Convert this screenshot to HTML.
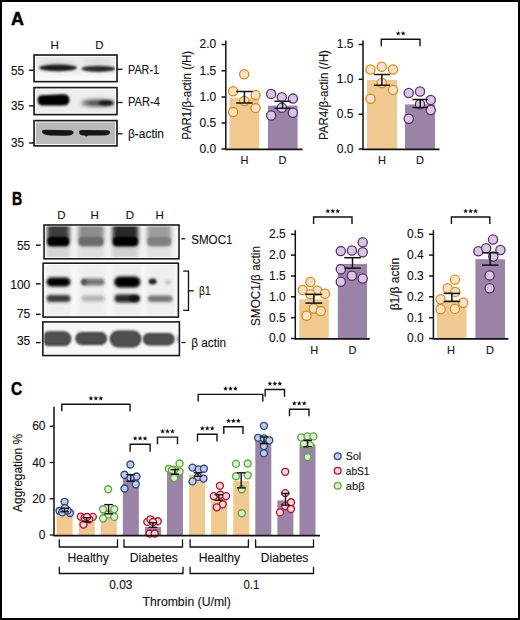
<!DOCTYPE html><html><head><meta charset="utf-8"><style>html,body{margin:0;padding:0;background:#fff;overflow:hidden;width:520px;height:620px;}svg{display:block;}</style></head><body>
<svg width="520" height="620" viewBox="0 0 520 620" font-family='"Liberation Sans", sans-serif'>
<defs>
<filter id="b1" x="-30%" y="-80%" width="160%" height="260%"><feGaussianBlur stdDeviation="1.2"/></filter>
<filter id="b2" x="-30%" y="-80%" width="160%" height="260%"><feGaussianBlur stdDeviation="2"/></filter>
<filter id="b3" x="-30%" y="-80%" width="160%" height="260%"><feGaussianBlur stdDeviation="3"/></filter>
<clipPath id="cA1"><rect x="34.8" y="55.8" width="81.4" height="25.1"/></clipPath>
<clipPath id="cA2"><rect x="34.8" y="88.4" width="81.4" height="25.4"/></clipPath>
<clipPath id="cA3"><rect x="34.8" y="121.4" width="81.4" height="23.7"/></clipPath>
<clipPath id="cB1"><rect x="44.8" y="225.8" width="133.4" height="32.2"/></clipPath>
<clipPath id="cB2"><rect x="43.9" y="264" width="133.7" height="52.3"/></clipPath>
<clipPath id="cB3"><rect x="43.6" y="322.7" width="135" height="32.1"/></clipPath>
</defs>
<rect x="0" y="0" width="520" height="620" fill="#fff" />
<rect x="1" y="1" width="518" height="618" fill="none" stroke="#000" stroke-width="2"/>
<text x="10.9" y="25.2" font-size="18" text-anchor="start" fill="#000" stroke="#000" stroke-width="0.5" font-weight="bold" textLength="12.9" lengthAdjust="spacingAndGlyphs">A</text>
<text x="54.6" y="49.2" font-size="11.5" text-anchor="middle" fill="#111" stroke="#111" stroke-width="0.12">H</text>
<text x="99.3" y="49.2" font-size="11.5" text-anchor="middle" fill="#111" stroke="#111" stroke-width="0.12">D</text>
<g clip-path="url(#cA1)">
<rect x="34" y="55" width="83" height="27" fill="#efefef" />
<ellipse cx="98" cy="62" rx="16" ry="4" fill="#d8d8d8" filter="url(#b3)"/>
<ellipse cx="58" cy="64" rx="20" ry="4" fill="#d6d6d6" filter="url(#b3)"/>
<ellipse cx="58" cy="67.8" rx="19" ry="3.4" fill="#1e1e1e" filter="url(#b1)"/>
<ellipse cx="98.5" cy="68.8" rx="17" ry="3.1" fill="#2a2a2a" filter="url(#b1)"/>
<rect x="34" y="75.5" width="83" height="7" fill="#fbfbfb" filter="url(#b2)"/>
</g>
<g clip-path="url(#cA2)">
<rect x="34" y="88" width="83" height="27" fill="#ededed" />
<path d="M37.8 99 Q37.8 95.5 42 95.2 L63 94.2 Q69.5 94.2 69.5 100 Q69.5 105.6 63 105.6 L42 105.4 Q37.8 105 37.8 101 Z" fill="#060606" filter="url(#b1)"/>
<ellipse cx="98.5" cy="103" rx="17" ry="3.3" fill="#404040" filter="url(#b2)"/>
<ellipse cx="106" cy="103" rx="7" ry="2.6" fill="#151515" filter="url(#b1)"/>
</g>
<g clip-path="url(#cA3)">
<rect x="34" y="121" width="83" height="25" fill="#b9b9b9" />
<filter id="b08" x="-20%" y="-80%" width="140%" height="260%"><feGaussianBlur stdDeviation="0.7"/></filter>
<path d="M42 131.5 Q42 129.8 45 129.8 L70 130.2 Q73.5 130.5 73.5 132.5 Q73.5 135.5 66 135.8 L50 135.6 Q42 135 42 131.5 Z" fill="#151515" filter="url(#b08)"/>
<path d="M79 132 Q79 130 82 130 L107 130.3 Q110 130.6 110 132.5 Q110 135.3 103 135.6 L88 135.6 Q86 137.5 85 135.6 L83 135.5 Q79 135 79 132 Z" fill="#151515" filter="url(#b08)"/>
</g>
<rect x="35.3" y="56.3" width="80.4" height="24.050000000000004" fill="none" stroke="#fff" stroke-width="1"/>
<rect x="34.05" y="55" width="82.95" height="26.650000000000006" fill="none" stroke="#1a1a1a" stroke-width="1.65"/>
<rect x="35.3" y="88.89999999999999" width="80.4" height="24.4" fill="none" stroke="#fff" stroke-width="1"/>
<rect x="34.05" y="87.6" width="82.95" height="27.0" fill="none" stroke="#1a1a1a" stroke-width="1.65"/>
<rect x="35.3" y="121.89999999999999" width="80.4" height="22.70000000000001" fill="none" stroke="#fff" stroke-width="1"/>
<rect x="34.05" y="120.6" width="82.95" height="25.30000000000001" fill="none" stroke="#1a1a1a" stroke-width="1.65"/>
<line x1="29.1" y1="70.3" x2="34" y2="70.3" stroke="#111" stroke-width="1.4"/>
<text x="24.1" y="74.5" font-size="12.5" text-anchor="end" fill="#111" stroke="#111" stroke-width="0.12" textLength="13.1" lengthAdjust="spacingAndGlyphs">55</text>
<line x1="29.1" y1="105.9" x2="34" y2="105.9" stroke="#111" stroke-width="1.4"/>
<text x="24.1" y="110.1" font-size="12.5" text-anchor="end" fill="#111" stroke="#111" stroke-width="0.12" textLength="13.1" lengthAdjust="spacingAndGlyphs">35</text>
<line x1="29.1" y1="143" x2="34" y2="143" stroke="#111" stroke-width="1.4"/>
<text x="24.1" y="147.1" font-size="12.5" text-anchor="end" fill="#111" stroke="#111" stroke-width="0.12" textLength="13.1" lengthAdjust="spacingAndGlyphs">35</text>
<line x1="117.2" y1="69.3" x2="122.5" y2="69.3" stroke="#111" stroke-width="1.3"/>
<text x="128" y="74.4" font-size="12" text-anchor="start" fill="#111" stroke="#111" stroke-width="0.12" textLength="31" lengthAdjust="spacingAndGlyphs">PAR-1</text>
<line x1="117.2" y1="102.5" x2="122.5" y2="102.5" stroke="#111" stroke-width="1.3"/>
<text x="128" y="106.2" font-size="12" text-anchor="start" fill="#111" stroke="#111" stroke-width="0.12" textLength="32" lengthAdjust="spacingAndGlyphs">PAR-4</text>
<line x1="117.2" y1="133.8" x2="122.5" y2="133.8" stroke="#111" stroke-width="1.3"/>
<text x="128" y="138.1" font-size="12" text-anchor="start" fill="#111" stroke="#111" stroke-width="0.12" textLength="36" lengthAdjust="spacingAndGlyphs">β-actin</text>
<g id="A1">
<rect x="229.6" y="97.795" width="29.6" height="51.205" fill="#efc98f" />
<rect x="268" y="105.6325" width="29.6" height="43.3675" fill="#9b83a8" />
<circle cx="244.20" cy="74.20" r="4.6" fill="#f7e2c9" stroke="#dc8a16" stroke-width="1.3"/>
<circle cx="233.10" cy="91.20" r="4.6" fill="#f7e2c9" stroke="#dc8a16" stroke-width="1.3"/>
<circle cx="255.60" cy="94.90" r="4.6" fill="#f7e2c9" stroke="#dc8a16" stroke-width="1.3"/>
<circle cx="244.20" cy="101.10" r="4.6" fill="#f7e2c9" stroke="#dc8a16" stroke-width="1.3"/>
<circle cx="255.60" cy="108.10" r="4.6" fill="#f7e2c9" stroke="#dc8a16" stroke-width="1.3"/>
<circle cx="233.10" cy="112.10" r="4.6" fill="#f7e2c9" stroke="#dc8a16" stroke-width="1.3"/>
<circle cx="271.10" cy="93.90" r="4.6" fill="#d6c9de" stroke="#5b2b74" stroke-width="1.3"/>
<circle cx="281.80" cy="97.30" r="4.6" fill="#d6c9de" stroke="#5b2b74" stroke-width="1.3"/>
<circle cx="292.90" cy="98.60" r="4.6" fill="#d6c9de" stroke="#5b2b74" stroke-width="1.3"/>
<circle cx="281.80" cy="107.80" r="4.6" fill="#d6c9de" stroke="#5b2b74" stroke-width="1.3"/>
<circle cx="292.90" cy="112.80" r="4.6" fill="#d6c9de" stroke="#5b2b74" stroke-width="1.3"/>
<circle cx="271.10" cy="115.50" r="4.6" fill="#d6c9de" stroke="#5b2b74" stroke-width="1.3"/>
<line x1="244.4" y1="91.5" x2="244.4" y2="103" stroke="#111" stroke-width="1.5"/>
<line x1="236.20000000000002" y1="91.5" x2="252.6" y2="91.5" stroke="#111" stroke-width="1.5"/>
<line x1="236.20000000000002" y1="103" x2="252.6" y2="103" stroke="#111" stroke-width="1.5"/>
<line x1="282.5" y1="101.3" x2="282.5" y2="108.3" stroke="#111" stroke-width="1.5"/>
<line x1="274.4" y1="101.3" x2="290.6" y2="101.3" stroke="#111" stroke-width="1.5"/>
<line x1="274.4" y1="108.3" x2="290.6" y2="108.3" stroke="#111" stroke-width="1.5"/>
<line x1="225.8" y1="40.5" x2="225.8" y2="149.7" stroke="#111" stroke-width="1.5"/>
<line x1="225.10000000000002" y1="149.4" x2="302.5" y2="149.4" stroke="#111" stroke-width="1.7"/>
<line x1="221.5" y1="149" x2="225.8" y2="149" stroke="#111" stroke-width="1.5"/>
<text x="216.20000000000002" y="152.9" font-size="12" text-anchor="end" fill="#111" stroke="#111" stroke-width="0.12">0.0</text>
<line x1="221.5" y1="123" x2="225.8" y2="123" stroke="#111" stroke-width="1.5"/>
<text x="216.20000000000002" y="126.9" font-size="12" text-anchor="end" fill="#111" stroke="#111" stroke-width="0.12">0.5</text>
<line x1="221.5" y1="97" x2="225.8" y2="97" stroke="#111" stroke-width="1.5"/>
<text x="216.20000000000002" y="100.9" font-size="12" text-anchor="end" fill="#111" stroke="#111" stroke-width="0.12">1.0</text>
<line x1="221.5" y1="70.8" x2="225.8" y2="70.8" stroke="#111" stroke-width="1.5"/>
<text x="216.20000000000002" y="74.7" font-size="12" text-anchor="end" fill="#111" stroke="#111" stroke-width="0.12">1.5</text>
<line x1="221.5" y1="44.5" x2="225.8" y2="44.5" stroke="#111" stroke-width="1.5"/>
<text x="216.20000000000002" y="48.4" font-size="12" text-anchor="end" fill="#111" stroke="#111" stroke-width="0.12">2.0</text>
<text x="190.6" y="95.3" font-size="12.5" text-anchor="middle" fill="#111" stroke="#111" stroke-width="0.12" textLength="89" lengthAdjust="spacingAndGlyphs" transform="rotate(-90 190.6 95.3)">PAR1/β-actin (/H)</text>
<text x="244.6" y="163.8" font-size="11" text-anchor="middle" fill="#111" stroke="#111" stroke-width="0.12">H</text>
<text x="282.5" y="163.8" font-size="11" text-anchor="middle" fill="#111" stroke="#111" stroke-width="0.12">D</text>
</g>
<g id="A2">
<rect x="367" y="80.03" width="30" height="68.97" fill="#efc98f" />
<rect x="405" y="104.41333333333333" width="30" height="44.58666666666667" fill="#9b83a8" />
<circle cx="370.50" cy="69.50" r="4.6" fill="#f7e2c9" stroke="#dc8a16" stroke-width="1.3"/>
<circle cx="381.75" cy="66.75" r="4.6" fill="#f7e2c9" stroke="#dc8a16" stroke-width="1.3"/>
<circle cx="393.00" cy="69.50" r="4.6" fill="#f7e2c9" stroke="#dc8a16" stroke-width="1.3"/>
<circle cx="381.75" cy="83.00" r="4.6" fill="#f7e2c9" stroke="#dc8a16" stroke-width="1.3"/>
<circle cx="393.00" cy="90.00" r="4.6" fill="#f7e2c9" stroke="#dc8a16" stroke-width="1.3"/>
<circle cx="370.50" cy="98.75" r="4.6" fill="#f7e2c9" stroke="#dc8a16" stroke-width="1.3"/>
<circle cx="408.75" cy="93.00" r="4.6" fill="#d6c9de" stroke="#5b2b74" stroke-width="1.3"/>
<circle cx="420.00" cy="91.50" r="4.6" fill="#d6c9de" stroke="#5b2b74" stroke-width="1.3"/>
<circle cx="430.75" cy="100.00" r="4.6" fill="#d6c9de" stroke="#5b2b74" stroke-width="1.3"/>
<circle cx="420.00" cy="104.25" r="4.6" fill="#d6c9de" stroke="#5b2b74" stroke-width="1.3"/>
<circle cx="430.75" cy="110.00" r="4.6" fill="#d6c9de" stroke="#5b2b74" stroke-width="1.3"/>
<circle cx="408.75" cy="118.75" r="4.6" fill="#d6c9de" stroke="#5b2b74" stroke-width="1.3"/>
<line x1="381.9" y1="74.5" x2="381.9" y2="85.25" stroke="#111" stroke-width="1.5"/>
<line x1="373.79999999999995" y1="74.5" x2="390.0" y2="74.5" stroke="#111" stroke-width="1.5"/>
<line x1="373.79999999999995" y1="85.25" x2="390.0" y2="85.25" stroke="#111" stroke-width="1.5"/>
<line x1="420.2" y1="99.5" x2="420.2" y2="107.5" stroke="#111" stroke-width="1.5"/>
<line x1="412.4" y1="99.5" x2="428.0" y2="99.5" stroke="#111" stroke-width="1.5"/>
<line x1="412.4" y1="107.5" x2="428.0" y2="107.5" stroke="#111" stroke-width="1.5"/>
<line x1="363" y1="40.5" x2="363" y2="149.7" stroke="#111" stroke-width="1.5"/>
<line x1="362.3" y1="149.4" x2="439.5" y2="149.4" stroke="#111" stroke-width="1.7"/>
<line x1="358.7" y1="149" x2="363" y2="149" stroke="#111" stroke-width="1.5"/>
<text x="353.4" y="152.9" font-size="12" text-anchor="end" fill="#111" stroke="#111" stroke-width="0.12">0.0</text>
<line x1="358.7" y1="114.2" x2="363" y2="114.2" stroke="#111" stroke-width="1.5"/>
<text x="353.4" y="118.10000000000001" font-size="12" text-anchor="end" fill="#111" stroke="#111" stroke-width="0.12">0.5</text>
<line x1="358.7" y1="79.3" x2="363" y2="79.3" stroke="#111" stroke-width="1.5"/>
<text x="353.4" y="83.2" font-size="12" text-anchor="end" fill="#111" stroke="#111" stroke-width="0.12">1.0</text>
<line x1="358.7" y1="44.5" x2="363" y2="44.5" stroke="#111" stroke-width="1.5"/>
<text x="353.4" y="48.4" font-size="12" text-anchor="end" fill="#111" stroke="#111" stroke-width="0.12">1.5</text>
<path d="M381.3 46.3 L381.3 39.3 L420 39.3 L420 46.3" stroke="#111" stroke-width="1.4" fill="none"/>
<polygon points="398.17,30.90 398.82,32.61 400.65,32.70 399.22,33.84 399.70,35.60 398.17,34.60 396.65,35.60 397.13,33.84 395.70,32.70 397.53,32.61" fill="#111"/>
<polygon points="403.12,30.90 403.77,32.61 405.60,32.70 404.17,33.84 404.65,35.60 403.12,34.60 401.60,35.60 402.08,33.84 400.65,32.70 402.48,32.61" fill="#111"/>
<text x="328.4" y="95.1" font-size="12.5" text-anchor="middle" fill="#111" stroke="#111" stroke-width="0.12" textLength="90" lengthAdjust="spacingAndGlyphs" transform="rotate(-90 328.4 95.1)">PAR4/β-actin (/H)</text>
<text x="382" y="163.8" font-size="11" text-anchor="middle" fill="#111" stroke="#111" stroke-width="0.12">H</text>
<text x="420" y="163.8" font-size="11" text-anchor="middle" fill="#111" stroke="#111" stroke-width="0.12">D</text>
</g>
<text x="12" y="204.9" font-size="18" text-anchor="start" fill="#000" stroke="#000" stroke-width="0.5" font-weight="bold" textLength="10.2" lengthAdjust="spacingAndGlyphs">B</text>
<text x="61.3" y="219.3" font-size="11.5" text-anchor="middle" fill="#111" stroke="#111" stroke-width="0.12">D</text>
<text x="94.6" y="219.3" font-size="11.5" text-anchor="middle" fill="#111" stroke="#111" stroke-width="0.12">H</text>
<text x="129.8" y="219.3" font-size="11.5" text-anchor="middle" fill="#111" stroke="#111" stroke-width="0.12">D</text>
<text x="159.6" y="219.3" font-size="11.5" text-anchor="middle" fill="#111" stroke="#111" stroke-width="0.12">H</text>
<g clip-path="url(#cB1)">
<rect x="43" y="224" width="136" height="36" fill="#f3f3f3" />
<rect x="46.6" y="247" width="23.4" height="12" fill="#d4d4d4" filter="url(#b2)"/>
<rect x="47.1" y="222" width="22.4" height="24" rx="4" fill="#3c3c3c" filter="url(#b2)"/>
<rect x="47.6" y="237" width="21.4" height="9" rx="3.5" fill="#050505" filter="url(#b1)"/>
<rect x="77.8" y="247" width="26.5" height="12" fill="#dedede" filter="url(#b2)"/>
<rect x="78.3" y="222" width="25.5" height="24" rx="4" fill="#8c8c8c" filter="url(#b2)"/>
<rect x="78.8" y="237" width="24.5" height="9" rx="3.5" fill="#6c6c6c" filter="url(#b1)"/>
<rect x="112" y="247" width="26.80000000000001" height="12" fill="#d0d0d0" filter="url(#b2)"/>
<rect x="112.5" y="222" width="25.80000000000001" height="24" rx="4" fill="#2c2c2c" filter="url(#b2)"/>
<rect x="113" y="237" width="24.80000000000001" height="9" rx="3.5" fill="#000" filter="url(#b1)"/>
<rect x="146.6" y="247" width="25.200000000000017" height="12" fill="#e2e2e2" filter="url(#b2)"/>
<rect x="147.1" y="222" width="24.200000000000017" height="24" rx="4" fill="#9c9c9c" filter="url(#b2)"/>
<rect x="147.6" y="237" width="23.200000000000017" height="9" rx="3.5" fill="#808080" filter="url(#b1)"/>
</g>
<filter id="b15" x="-30%" y="-80%" width="160%" height="260%"><feGaussianBlur stdDeviation="1.5"/></filter>
<g clip-path="url(#cB2)">
<rect x="43" y="263" width="136" height="55" fill="#f8f8f8" />
<rect x="46" y="263" width="25" height="55" fill="#eeeeee" filter="url(#b2)"/>
<rect x="78" y="263" width="28" height="55" fill="#eeeeee" filter="url(#b2)"/>
<rect x="112" y="263" width="29" height="55" fill="#eeeeee" filter="url(#b2)"/>
<rect x="146" y="263" width="29" height="55" fill="#eeeeee" filter="url(#b2)"/>
<rect x="46.5" y="277.6" width="24.0" height="8.799999999999955" rx="4.399999999999977" fill="#020202" filter="url(#b15)"/>
<rect x="82" y="278.5" width="22.5" height="7.0" rx="3.5" fill="#777" filter="url(#b15)"/>
<rect x="114.2" y="276.6" width="26.200000000000003" height="10.799999999999955" rx="5.399999999999977" fill="#000" filter="url(#b15)"/>
<rect x="46.5" y="295" width="24.0" height="7" rx="3.5" fill="#3a3a3a" filter="url(#b15)"/>
<rect x="81.5" y="295.5" width="23.0" height="6.0" rx="3.0" fill="#b4b4b4" filter="url(#b15)"/>
<rect x="114.5" y="294.5" width="25.5" height="8.0" rx="4.0" fill="#262626" filter="url(#b15)"/>
<rect x="147.8" y="295.5" width="24.799999999999983" height="6.5" rx="3.25" fill="#747474" filter="url(#b15)"/>
<ellipse cx="152.6" cy="281.5" rx="4" ry="3" fill="#222" filter="url(#b1)"/>
<ellipse cx="168" cy="282.3" rx="3.5" ry="2" fill="#c4c4c4" filter="url(#b1)"/>
<ellipse cx="84" cy="282" rx="3" ry="3" fill="#555" filter="url(#b1)"/>
<ellipse cx="134" cy="298.5" rx="5" ry="3" fill="#0a0a0a" filter="url(#b1)"/>
</g>
<g clip-path="url(#cB3)">
<rect x="43" y="321" width="137" height="35" fill="#f7f7f7" />
<rect x="42.6" y="331.90000000000003" width="28.000000000000004" height="13.49999999999999" rx="6.749999999999995" fill="#505050" stroke="#303030" stroke-width="1.4" filter="url(#b1)"/>
<rect x="76.0" y="332.8" width="30.399999999999995" height="11.400000000000023" rx="5.700000000000012" fill="#505050" stroke="#303030" stroke-width="1.4" filter="url(#b1)"/>
<rect x="110.39999999999999" y="331.1" width="30.300000000000015" height="15.600000000000012" rx="7.800000000000006" fill="#505050" stroke="#303030" stroke-width="1.4" filter="url(#b1)"/>
<rect x="143.6" y="333.6" width="30.3" height="11.100000000000012" rx="5.550000000000006" fill="#505050" stroke="#303030" stroke-width="1.4" filter="url(#b1)"/>
<ellipse cx="179.5" cy="339" rx="2" ry="4" fill="#444" filter="url(#b1)"/>
</g>
<rect x="45.25" y="226.2" width="132.54999999999998" height="31.400000000000013" fill="none" stroke="#fff" stroke-width="0.8" opacity="0.8"/>
<rect x="44.05" y="225" width="134.95" height="33.80000000000001" fill="none" stroke="#1a1a1a" stroke-width="1.6"/>
<rect x="44.300000000000004" y="264.4" width="132.9" height="51.500000000000036" fill="none" stroke="#fff" stroke-width="0.8" opacity="0.8"/>
<rect x="43.1" y="263.2" width="135.3" height="53.900000000000034" fill="none" stroke="#1a1a1a" stroke-width="1.6"/>
<rect x="44.050000000000004" y="323.09999999999997" width="134.15" height="31.250000000000036" fill="none" stroke="#fff" stroke-width="0.8" opacity="0.8"/>
<rect x="42.85" y="321.9" width="136.55" height="33.650000000000034" fill="none" stroke="#1a1a1a" stroke-width="1.6"/>
<line x1="36" y1="245.2" x2="40.6" y2="245.2" stroke="#111" stroke-width="1.4"/>
<text x="30.3" y="249.8" font-size="12" text-anchor="end" fill="#111" stroke="#111" stroke-width="0.12">55</text>
<line x1="36" y1="283.8" x2="40.6" y2="283.8" stroke="#111" stroke-width="1.4"/>
<text x="30.3" y="288.7" font-size="12" text-anchor="end" fill="#111" stroke="#111" stroke-width="0.12">100</text>
<line x1="36" y1="314.3" x2="40.6" y2="314.3" stroke="#111" stroke-width="1.4"/>
<text x="30.3" y="318.3" font-size="12" text-anchor="end" fill="#111" stroke="#111" stroke-width="0.12">75</text>
<line x1="36" y1="342.6" x2="40.6" y2="342.6" stroke="#111" stroke-width="1.4"/>
<text x="30.3" y="345.4" font-size="12" text-anchor="end" fill="#111" stroke="#111" stroke-width="0.12">35</text>
<line x1="181.3" y1="238.8" x2="185.2" y2="238.8" stroke="#111" stroke-width="1.3"/>
<text x="191.2" y="243.6" font-size="12" text-anchor="start" fill="#111" stroke="#111" stroke-width="0.12" textLength="41.3" lengthAdjust="spacingAndGlyphs">SMOC1</text>
<path d="M183.2 271.2 L188.5 271.2 L188.5 310.3 L183.2 310.3" stroke="#111" stroke-width="1.3" fill="none"/>
<line x1="188.5" y1="290.8" x2="193.8" y2="290.8" stroke="#111" stroke-width="1.3"/>
<text x="199.1" y="294.7" font-size="13" text-anchor="start" fill="#111" stroke="#111" stroke-width="0.12" textLength="11.4" lengthAdjust="spacingAndGlyphs">β1</text>
<line x1="181.3" y1="342.5" x2="185.5" y2="342.5" stroke="#111" stroke-width="1.3"/>
<text x="191.2" y="347" font-size="12" text-anchor="start" fill="#111" stroke="#111" stroke-width="0.12" textLength="35" lengthAdjust="spacingAndGlyphs">β actin</text>
<g id="B1">
<rect x="299.3" y="299.3208" width="29.5" height="39.17919999999999" fill="#efc98f" />
<rect x="337.8" y="263.8928" width="29.2" height="74.60719999999999" fill="#9b83a8" />
<circle cx="310.40" cy="282.00" r="4.6" fill="#f7e2c9" stroke="#dc8a16" stroke-width="1.3"/>
<circle cx="302.70" cy="290.00" r="4.6" fill="#f7e2c9" stroke="#dc8a16" stroke-width="1.3"/>
<circle cx="317.30" cy="290.80" r="4.6" fill="#f7e2c9" stroke="#dc8a16" stroke-width="1.3"/>
<circle cx="325.00" cy="293.80" r="4.6" fill="#f7e2c9" stroke="#dc8a16" stroke-width="1.3"/>
<circle cx="310.40" cy="294.20" r="4.6" fill="#f7e2c9" stroke="#dc8a16" stroke-width="1.3"/>
<circle cx="313.80" cy="308.50" r="4.6" fill="#f7e2c9" stroke="#dc8a16" stroke-width="1.3"/>
<circle cx="320.80" cy="311.10" r="4.6" fill="#f7e2c9" stroke="#dc8a16" stroke-width="1.3"/>
<circle cx="306.50" cy="315.70" r="4.6" fill="#f7e2c9" stroke="#dc8a16" stroke-width="1.3"/>
<circle cx="362.70" cy="242.30" r="4.6" fill="#d6c9de" stroke="#5b2b74" stroke-width="1.3"/>
<circle cx="340.80" cy="251.10" r="4.6" fill="#d6c9de" stroke="#5b2b74" stroke-width="1.3"/>
<circle cx="351.90" cy="250.50" r="4.6" fill="#d6c9de" stroke="#5b2b74" stroke-width="1.3"/>
<circle cx="362.70" cy="252.30" r="4.6" fill="#d6c9de" stroke="#5b2b74" stroke-width="1.3"/>
<circle cx="340.80" cy="269.20" r="4.6" fill="#d6c9de" stroke="#5b2b74" stroke-width="1.3"/>
<circle cx="351.90" cy="275.70" r="4.6" fill="#d6c9de" stroke="#5b2b74" stroke-width="1.3"/>
<circle cx="362.70" cy="278.50" r="4.6" fill="#d6c9de" stroke="#5b2b74" stroke-width="1.3"/>
<circle cx="340.80" cy="281.80" r="4.6" fill="#d6c9de" stroke="#5b2b74" stroke-width="1.3"/>
<line x1="313.8" y1="294.3" x2="313.8" y2="303.1" stroke="#111" stroke-width="1.5"/>
<line x1="305.40000000000003" y1="294.3" x2="322.2" y2="294.3" stroke="#111" stroke-width="1.5"/>
<line x1="305.40000000000003" y1="303.1" x2="322.2" y2="303.1" stroke="#111" stroke-width="1.5"/>
<line x1="352.5" y1="257.7" x2="352.5" y2="268.2" stroke="#111" stroke-width="1.5"/>
<line x1="344.2" y1="257.7" x2="360.8" y2="257.7" stroke="#111" stroke-width="1.5"/>
<line x1="344.2" y1="268.2" x2="360.8" y2="268.2" stroke="#111" stroke-width="1.5"/>
<line x1="295.3" y1="230.2" x2="295.3" y2="339.2" stroke="#111" stroke-width="1.5"/>
<line x1="294.6" y1="338.9" x2="369.8" y2="338.9" stroke="#111" stroke-width="1.7"/>
<line x1="291.0" y1="338.5" x2="295.3" y2="338.5" stroke="#111" stroke-width="1.5"/>
<text x="285.7" y="342.4" font-size="12" text-anchor="end" fill="#111" stroke="#111" stroke-width="0.12">0.0</text>
<line x1="291.0" y1="317.7" x2="295.3" y2="317.7" stroke="#111" stroke-width="1.5"/>
<text x="285.7" y="321.59999999999997" font-size="12" text-anchor="end" fill="#111" stroke="#111" stroke-width="0.12">0.5</text>
<line x1="291.0" y1="296.8" x2="295.3" y2="296.8" stroke="#111" stroke-width="1.5"/>
<text x="285.7" y="300.7" font-size="12" text-anchor="end" fill="#111" stroke="#111" stroke-width="0.12">1.0</text>
<line x1="291.0" y1="276" x2="295.3" y2="276" stroke="#111" stroke-width="1.5"/>
<text x="285.7" y="279.9" font-size="12" text-anchor="end" fill="#111" stroke="#111" stroke-width="0.12">1.5</text>
<line x1="291.0" y1="255.1" x2="295.3" y2="255.1" stroke="#111" stroke-width="1.5"/>
<text x="285.7" y="259.0" font-size="12" text-anchor="end" fill="#111" stroke="#111" stroke-width="0.12">2.0</text>
<line x1="291.0" y1="234.3" x2="295.3" y2="234.3" stroke="#111" stroke-width="1.5"/>
<text x="285.7" y="238.20000000000002" font-size="12" text-anchor="end" fill="#111" stroke="#111" stroke-width="0.12">2.5</text>
<path d="M313.6 224 L313.6 217 L352 217 L352 224" stroke="#111" stroke-width="1.4" fill="none"/>
<polygon points="327.85,208.60 328.50,210.31 330.32,210.40 328.90,211.54 329.38,213.30 327.85,212.30 326.32,213.30 326.80,211.54 325.38,210.40 327.20,210.31" fill="#111"/>
<polygon points="332.80,208.60 333.45,210.31 335.27,210.40 333.85,211.54 334.33,213.30 332.80,212.30 331.27,213.30 331.75,211.54 330.33,210.40 332.15,210.31" fill="#111"/>
<polygon points="337.75,208.60 338.40,210.31 340.22,210.40 338.80,211.54 339.28,213.30 337.75,212.30 336.22,213.30 336.70,211.54 335.28,210.40 337.10,210.31" fill="#111"/>
<text x="260.3" y="286" font-size="12.5" text-anchor="middle" fill="#111" stroke="#111" stroke-width="0.12" textLength="80" lengthAdjust="spacingAndGlyphs" transform="rotate(-90 260.3 286)">SMOC1/β actin</text>
<text x="314.3" y="353.6" font-size="11" text-anchor="middle" fill="#111" stroke="#111" stroke-width="0.12">H</text>
<text x="352.6" y="353.6" font-size="11" text-anchor="middle" fill="#111" stroke="#111" stroke-width="0.12">D</text>
</g>
<g id="B2">
<rect x="437" y="300" width="29.5" height="38.5" fill="#efc98f" />
<rect x="475.4" y="259.2" width="29.6" height="79.3" fill="#9b83a8" />
<circle cx="455.00" cy="279.60" r="4.6" fill="#f7e2c9" stroke="#dc8a16" stroke-width="1.2"/>
<circle cx="447.60" cy="288.30" r="4.6" fill="#f7e2c9" stroke="#dc8a16" stroke-width="1.2"/>
<circle cx="455.20" cy="291.90" r="4.6" fill="#f7e2c9" stroke="#dc8a16" stroke-width="1.2"/>
<circle cx="440.60" cy="299.30" r="4.6" fill="#f7e2c9" stroke="#dc8a16" stroke-width="1.2"/>
<circle cx="463.20" cy="302.70" r="4.6" fill="#f7e2c9" stroke="#dc8a16" stroke-width="1.2"/>
<circle cx="440.60" cy="309.20" r="4.6" fill="#f7e2c9" stroke="#dc8a16" stroke-width="1.2"/>
<circle cx="454.80" cy="308.90" r="4.6" fill="#f7e2c9" stroke="#dc8a16" stroke-width="1.2"/>
<circle cx="493.00" cy="239.50" r="4.6" fill="#d6c9de" stroke="#5b2b74" stroke-width="1.3"/>
<circle cx="478.40" cy="251.20" r="4.6" fill="#d6c9de" stroke="#5b2b74" stroke-width="1.3"/>
<circle cx="486.10" cy="248.20" r="4.6" fill="#d6c9de" stroke="#5b2b74" stroke-width="1.3"/>
<circle cx="500.40" cy="250.00" r="4.6" fill="#d6c9de" stroke="#5b2b74" stroke-width="1.3"/>
<circle cx="493.30" cy="256.50" r="4.6" fill="#d6c9de" stroke="#5b2b74" stroke-width="1.3"/>
<circle cx="489.60" cy="275.40" r="4.6" fill="#d6c9de" stroke="#5b2b74" stroke-width="1.3"/>
<circle cx="489.60" cy="288.20" r="4.6" fill="#d6c9de" stroke="#5b2b74" stroke-width="1.3"/>
<line x1="451.9" y1="293.4" x2="451.9" y2="301.4" stroke="#111" stroke-width="1.5"/>
<line x1="443.7" y1="293.4" x2="460.09999999999997" y2="293.4" stroke="#111" stroke-width="1.5"/>
<line x1="443.7" y1="301.4" x2="460.09999999999997" y2="301.4" stroke="#111" stroke-width="1.5"/>
<line x1="490.2" y1="252.8" x2="490.2" y2="265.1" stroke="#111" stroke-width="1.5"/>
<line x1="482.0" y1="252.8" x2="498.4" y2="252.8" stroke="#111" stroke-width="1.5"/>
<line x1="482.0" y1="265.1" x2="498.4" y2="265.1" stroke="#111" stroke-width="1.5"/>
<line x1="433.4" y1="230.2" x2="433.4" y2="339.2" stroke="#111" stroke-width="1.5"/>
<line x1="432.7" y1="338.9" x2="508.4" y2="338.9" stroke="#111" stroke-width="1.7"/>
<line x1="429.09999999999997" y1="338.5" x2="433.4" y2="338.5" stroke="#111" stroke-width="1.5"/>
<text x="423.79999999999995" y="342.4" font-size="12" text-anchor="end" fill="#111" stroke="#111" stroke-width="0.12">0.0</text>
<line x1="429.09999999999997" y1="317.7" x2="433.4" y2="317.7" stroke="#111" stroke-width="1.5"/>
<text x="423.79999999999995" y="321.59999999999997" font-size="12" text-anchor="end" fill="#111" stroke="#111" stroke-width="0.12">0.1</text>
<line x1="429.09999999999997" y1="296.8" x2="433.4" y2="296.8" stroke="#111" stroke-width="1.5"/>
<text x="423.79999999999995" y="300.7" font-size="12" text-anchor="end" fill="#111" stroke="#111" stroke-width="0.12">0.2</text>
<line x1="429.09999999999997" y1="276" x2="433.4" y2="276" stroke="#111" stroke-width="1.5"/>
<text x="423.79999999999995" y="279.9" font-size="12" text-anchor="end" fill="#111" stroke="#111" stroke-width="0.12">0.3</text>
<line x1="429.09999999999997" y1="255.1" x2="433.4" y2="255.1" stroke="#111" stroke-width="1.5"/>
<text x="423.79999999999995" y="259.0" font-size="12" text-anchor="end" fill="#111" stroke="#111" stroke-width="0.12">0.4</text>
<line x1="429.09999999999997" y1="234.3" x2="433.4" y2="234.3" stroke="#111" stroke-width="1.5"/>
<text x="423.79999999999995" y="238.20000000000002" font-size="12" text-anchor="end" fill="#111" stroke="#111" stroke-width="0.12">0.5</text>
<path d="M451.4 224 L451.4 217 L489.8 217 L489.8 224" stroke="#111" stroke-width="1.4" fill="none"/>
<polygon points="465.65,208.60 466.30,210.31 468.12,210.40 466.70,211.54 467.18,213.30 465.65,212.30 464.12,213.30 464.60,211.54 463.18,210.40 465.00,210.31" fill="#111"/>
<polygon points="470.60,208.60 471.25,210.31 473.07,210.40 471.65,211.54 472.13,213.30 470.60,212.30 469.07,213.30 469.55,211.54 468.13,210.40 469.95,210.31" fill="#111"/>
<polygon points="475.55,208.60 476.20,210.31 478.02,210.40 476.60,211.54 477.08,213.30 475.55,212.30 474.02,213.30 474.50,211.54 473.08,210.40 474.90,210.31" fill="#111"/>
<text x="398.9" y="284.1" font-size="12.5" text-anchor="middle" fill="#111" stroke="#111" stroke-width="0.12" textLength="52.4" lengthAdjust="spacingAndGlyphs" transform="rotate(-90 398.9 284.1)">β1/β actin</text>
<text x="451.1" y="353.6" font-size="11" text-anchor="middle" fill="#111" stroke="#111" stroke-width="0.12">H</text>
<text x="489.9" y="353.6" font-size="11" text-anchor="middle" fill="#111" stroke="#111" stroke-width="0.12">D</text>
</g>
<text x="11.1" y="394.6" font-size="18" text-anchor="start" fill="#000" stroke="#000" stroke-width="0.5" font-weight="bold" textLength="11.2" lengthAdjust="spacingAndGlyphs">C</text>
<rect x="56.599999999999994" y="509.9875" width="16" height="25.012500000000003" fill="#efc98f" />
<rect x="78.67999999999999" y="519.775" width="16" height="15.225000000000001" fill="#efc98f" />
<rect x="100.75999999999999" y="509.2625" width="16" height="25.737499999999997" fill="#efc98f" />
<rect x="122.83999999999997" y="478.0875" width="16" height="56.912499999999994" fill="#9b83a8" />
<rect x="144.92" y="527.025" width="16" height="7.9750000000000005" fill="#9b83a8" />
<rect x="167.0" y="471.925" width="16" height="63.074999999999996" fill="#9b83a8" />
<rect x="189.07999999999998" y="474.64375" width="16" height="60.356249999999996" fill="#efc98f" />
<rect x="211.16" y="498.025" width="16" height="36.974999999999994" fill="#efc98f" />
<rect x="233.23999999999998" y="480.9875" width="16" height="54.0125" fill="#efc98f" />
<rect x="255.31999999999994" y="440.93125" width="16" height="94.06875" fill="#9b83a8" />
<rect x="277.4" y="500.38125" width="16" height="34.618750000000006" fill="#9b83a8" />
<rect x="299.48" y="444.19375" width="16" height="90.80625" fill="#9b83a8" />
<circle cx="64.60" cy="501.80" r="3.5" fill="#c6c9e0" stroke="#2a4989" stroke-width="1.35"/>
<circle cx="59.50" cy="510.80" r="3.5" fill="#c6c9e0" stroke="#2a4989" stroke-width="1.35"/>
<circle cx="70.00" cy="513.00" r="3.5" fill="#c6c9e0" stroke="#2a4989" stroke-width="1.35"/>
<circle cx="62.30" cy="512.30" r="3.5" fill="#c6c9e0" stroke="#2a4989" stroke-width="1.35"/>
<circle cx="67.50" cy="510.50" r="3.5" fill="#c6c9e0" stroke="#2a4989" stroke-width="1.35"/>
<circle cx="65.00" cy="508.00" r="3.5" fill="#c6c9e0" stroke="#2a4989" stroke-width="1.35"/>
<circle cx="80.80" cy="516.60" r="3.5" fill="#eedacf" stroke="#b0123a" stroke-width="1.35"/>
<circle cx="84.60" cy="517.70" r="3.5" fill="#eedacf" stroke="#b0123a" stroke-width="1.35"/>
<circle cx="92.80" cy="516.90" r="3.5" fill="#eedacf" stroke="#b0123a" stroke-width="1.35"/>
<circle cx="83.50" cy="524.60" r="3.5" fill="#eedacf" stroke="#b0123a" stroke-width="1.35"/>
<circle cx="89.20" cy="519.20" r="3.5" fill="#eedacf" stroke="#b0123a" stroke-width="1.35"/>
<circle cx="87.00" cy="517.00" r="3.5" fill="#eedacf" stroke="#b0123a" stroke-width="1.35"/>
<circle cx="108.20" cy="489.20" r="3.5" fill="#e0ecd6" stroke="#5caa3c" stroke-width="1.35"/>
<circle cx="103.10" cy="509.20" r="3.5" fill="#e0ecd6" stroke="#5caa3c" stroke-width="1.35"/>
<circle cx="114.30" cy="509.20" r="3.5" fill="#e0ecd6" stroke="#5caa3c" stroke-width="1.35"/>
<circle cx="108.20" cy="514.60" r="3.5" fill="#e0ecd6" stroke="#5caa3c" stroke-width="1.35"/>
<circle cx="103.10" cy="518.50" r="3.5" fill="#e0ecd6" stroke="#5caa3c" stroke-width="1.35"/>
<circle cx="114.30" cy="516.90" r="3.5" fill="#e0ecd6" stroke="#5caa3c" stroke-width="1.35"/>
<circle cx="130.40" cy="464.50" r="3.5" fill="#c6c9e0" stroke="#2a4989" stroke-width="1.35"/>
<circle cx="124.50" cy="474.70" r="3.5" fill="#c6c9e0" stroke="#2a4989" stroke-width="1.35"/>
<circle cx="136.50" cy="476.50" r="3.5" fill="#c6c9e0" stroke="#2a4989" stroke-width="1.35"/>
<circle cx="130.40" cy="478.00" r="3.5" fill="#c6c9e0" stroke="#2a4989" stroke-width="1.35"/>
<circle cx="135.80" cy="484.20" r="3.5" fill="#c6c9e0" stroke="#2a4989" stroke-width="1.35"/>
<circle cx="124.50" cy="488.50" r="3.5" fill="#c6c9e0" stroke="#2a4989" stroke-width="1.35"/>
<circle cx="147.30" cy="521.90" r="3.5" fill="#eedacf" stroke="#b0123a" stroke-width="1.35"/>
<circle cx="150.40" cy="519.30" r="3.5" fill="#eedacf" stroke="#b0123a" stroke-width="1.35"/>
<circle cx="157.80" cy="521.20" r="3.5" fill="#eedacf" stroke="#b0123a" stroke-width="1.35"/>
<circle cx="149.60" cy="533.50" r="3.5" fill="#eedacf" stroke="#b0123a" stroke-width="1.35"/>
<circle cx="154.70" cy="533.50" r="3.5" fill="#eedacf" stroke="#b0123a" stroke-width="1.35"/>
<circle cx="153.00" cy="522.00" r="3.5" fill="#eedacf" stroke="#b0123a" stroke-width="1.35"/>
<circle cx="179.60" cy="463.50" r="3.5" fill="#e0ecd6" stroke="#5caa3c" stroke-width="1.35"/>
<circle cx="168.80" cy="468.80" r="3.5" fill="#e0ecd6" stroke="#5caa3c" stroke-width="1.35"/>
<circle cx="179.60" cy="471.60" r="3.5" fill="#e0ecd6" stroke="#5caa3c" stroke-width="1.35"/>
<circle cx="174.20" cy="478.10" r="3.5" fill="#e0ecd6" stroke="#5caa3c" stroke-width="1.35"/>
<circle cx="174.20" cy="470.00" r="3.5" fill="#e0ecd6" stroke="#5caa3c" stroke-width="1.35"/>
<circle cx="172.00" cy="470.00" r="3.5" fill="#e0ecd6" stroke="#5caa3c" stroke-width="1.35"/>
<circle cx="192.50" cy="467.60" r="3.5" fill="#c6c9e0" stroke="#2a4989" stroke-width="1.35"/>
<circle cx="198.70" cy="469.40" r="3.5" fill="#c6c9e0" stroke="#2a4989" stroke-width="1.35"/>
<circle cx="203.90" cy="468.70" r="3.5" fill="#c6c9e0" stroke="#2a4989" stroke-width="1.35"/>
<circle cx="198.00" cy="476.90" r="3.5" fill="#c6c9e0" stroke="#2a4989" stroke-width="1.35"/>
<circle cx="192.50" cy="481.40" r="3.5" fill="#c6c9e0" stroke="#2a4989" stroke-width="1.35"/>
<circle cx="203.50" cy="478.60" r="3.5" fill="#c6c9e0" stroke="#2a4989" stroke-width="1.35"/>
<circle cx="219.90" cy="485.80" r="3.5" fill="#eedacf" stroke="#b0123a" stroke-width="1.35"/>
<circle cx="213.80" cy="496.10" r="3.5" fill="#eedacf" stroke="#b0123a" stroke-width="1.35"/>
<circle cx="220.30" cy="494.70" r="3.5" fill="#eedacf" stroke="#b0123a" stroke-width="1.35"/>
<circle cx="226.10" cy="496.10" r="3.5" fill="#eedacf" stroke="#b0123a" stroke-width="1.35"/>
<circle cx="222.70" cy="504.30" r="3.5" fill="#eedacf" stroke="#b0123a" stroke-width="1.35"/>
<circle cx="216.80" cy="507.30" r="3.5" fill="#eedacf" stroke="#b0123a" stroke-width="1.35"/>
<circle cx="236.00" cy="463.90" r="3.5" fill="#e0ecd6" stroke="#5caa3c" stroke-width="1.35"/>
<circle cx="247.70" cy="463.50" r="3.5" fill="#e0ecd6" stroke="#5caa3c" stroke-width="1.35"/>
<circle cx="236.00" cy="476.20" r="3.5" fill="#e0ecd6" stroke="#5caa3c" stroke-width="1.35"/>
<circle cx="247.70" cy="475.30" r="3.5" fill="#e0ecd6" stroke="#5caa3c" stroke-width="1.35"/>
<circle cx="241.80" cy="489.20" r="3.5" fill="#e0ecd6" stroke="#5caa3c" stroke-width="1.35"/>
<circle cx="241.80" cy="513.20" r="3.5" fill="#e0ecd6" stroke="#5caa3c" stroke-width="1.35"/>
<circle cx="263.90" cy="425.80" r="3.5" fill="#c6c9e0" stroke="#2a4989" stroke-width="1.35"/>
<circle cx="258.10" cy="437.80" r="3.5" fill="#c6c9e0" stroke="#2a4989" stroke-width="1.35"/>
<circle cx="263.90" cy="438.40" r="3.5" fill="#c6c9e0" stroke="#2a4989" stroke-width="1.35"/>
<circle cx="269.30" cy="440.30" r="3.5" fill="#c6c9e0" stroke="#2a4989" stroke-width="1.35"/>
<circle cx="263.90" cy="446.10" r="3.5" fill="#c6c9e0" stroke="#2a4989" stroke-width="1.35"/>
<circle cx="263.90" cy="453.30" r="3.5" fill="#c6c9e0" stroke="#2a4989" stroke-width="1.35"/>
<circle cx="285.20" cy="471.80" r="3.5" fill="#eedacf" stroke="#b0123a" stroke-width="1.35"/>
<circle cx="285.20" cy="493.10" r="3.5" fill="#eedacf" stroke="#b0123a" stroke-width="1.35"/>
<circle cx="291.00" cy="502.20" r="3.5" fill="#eedacf" stroke="#b0123a" stroke-width="1.35"/>
<circle cx="285.20" cy="506.10" r="3.5" fill="#eedacf" stroke="#b0123a" stroke-width="1.35"/>
<circle cx="291.00" cy="509.00" r="3.5" fill="#eedacf" stroke="#b0123a" stroke-width="1.35"/>
<circle cx="280.00" cy="512.40" r="3.5" fill="#eedacf" stroke="#b0123a" stroke-width="1.35"/>
<circle cx="301.20" cy="437.40" r="3.5" fill="#e0ecd6" stroke="#5caa3c" stroke-width="1.35"/>
<circle cx="307.60" cy="436.40" r="3.5" fill="#e0ecd6" stroke="#5caa3c" stroke-width="1.35"/>
<circle cx="313.40" cy="436.40" r="3.5" fill="#e0ecd6" stroke="#5caa3c" stroke-width="1.35"/>
<circle cx="310.00" cy="445.10" r="3.5" fill="#e0ecd6" stroke="#5caa3c" stroke-width="1.35"/>
<circle cx="304.00" cy="444.00" r="3.5" fill="#e0ecd6" stroke="#5caa3c" stroke-width="1.35"/>
<circle cx="307.60" cy="457.10" r="3.5" fill="#e0ecd6" stroke="#5caa3c" stroke-width="1.35"/>
<line x1="64.6" y1="508.2" x2="64.6" y2="511.8" stroke="#111" stroke-width="1.4"/>
<line x1="60.3" y1="508.2" x2="68.89999999999999" y2="508.2" stroke="#111" stroke-width="1.4"/>
<line x1="60.3" y1="511.8" x2="68.89999999999999" y2="511.8" stroke="#111" stroke-width="1.4"/>
<line x1="86.6" y1="517.7" x2="86.6" y2="521.8" stroke="#111" stroke-width="1.4"/>
<line x1="82.3" y1="517.7" x2="90.89999999999999" y2="517.7" stroke="#111" stroke-width="1.4"/>
<line x1="82.3" y1="521.8" x2="90.89999999999999" y2="521.8" stroke="#111" stroke-width="1.4"/>
<line x1="108.6" y1="504.6" x2="108.6" y2="513.8" stroke="#111" stroke-width="1.4"/>
<line x1="104.3" y1="504.6" x2="112.89999999999999" y2="504.6" stroke="#111" stroke-width="1.4"/>
<line x1="104.3" y1="513.8" x2="112.89999999999999" y2="513.8" stroke="#111" stroke-width="1.4"/>
<line x1="130.7" y1="474.7" x2="130.7" y2="481.2" stroke="#111" stroke-width="1.4"/>
<line x1="126.39999999999999" y1="474.7" x2="135.0" y2="474.7" stroke="#111" stroke-width="1.4"/>
<line x1="126.39999999999999" y1="481.2" x2="135.0" y2="481.2" stroke="#111" stroke-width="1.4"/>
<line x1="152.9" y1="522.7" x2="152.9" y2="527.3" stroke="#111" stroke-width="1.4"/>
<line x1="148.6" y1="522.7" x2="157.20000000000002" y2="522.7" stroke="#111" stroke-width="1.4"/>
<line x1="148.6" y1="527.3" x2="157.20000000000002" y2="527.3" stroke="#111" stroke-width="1.4"/>
<line x1="174.9" y1="469.6" x2="174.9" y2="474.2" stroke="#111" stroke-width="1.4"/>
<line x1="170.6" y1="469.6" x2="179.20000000000002" y2="469.6" stroke="#111" stroke-width="1.4"/>
<line x1="170.6" y1="474.2" x2="179.20000000000002" y2="474.2" stroke="#111" stroke-width="1.4"/>
<line x1="198" y1="472.8" x2="198" y2="476.2" stroke="#111" stroke-width="1.4"/>
<line x1="193.7" y1="472.8" x2="202.3" y2="472.8" stroke="#111" stroke-width="1.4"/>
<line x1="193.7" y1="476.2" x2="202.3" y2="476.2" stroke="#111" stroke-width="1.4"/>
<line x1="218.9" y1="494.7" x2="218.9" y2="500.2" stroke="#111" stroke-width="1.4"/>
<line x1="214.6" y1="494.7" x2="223.20000000000002" y2="494.7" stroke="#111" stroke-width="1.4"/>
<line x1="214.6" y1="500.2" x2="223.20000000000002" y2="500.2" stroke="#111" stroke-width="1.4"/>
<line x1="241.2" y1="472.8" x2="241.2" y2="487.9" stroke="#111" stroke-width="1.4"/>
<line x1="236.89999999999998" y1="472.8" x2="245.5" y2="472.8" stroke="#111" stroke-width="1.4"/>
<line x1="236.89999999999998" y1="487.9" x2="245.5" y2="487.9" stroke="#111" stroke-width="1.4"/>
<line x1="264" y1="437" x2="264" y2="443.6" stroke="#111" stroke-width="1.4"/>
<line x1="259.7" y1="437" x2="268.3" y2="437" stroke="#111" stroke-width="1.4"/>
<line x1="259.7" y1="443.6" x2="268.3" y2="443.6" stroke="#111" stroke-width="1.4"/>
<line x1="285.5" y1="493.5" x2="285.5" y2="505.1" stroke="#111" stroke-width="1.4"/>
<line x1="281.2" y1="493.5" x2="289.8" y2="493.5" stroke="#111" stroke-width="1.4"/>
<line x1="281.2" y1="505.1" x2="289.8" y2="505.1" stroke="#111" stroke-width="1.4"/>
<line x1="307.6" y1="440.3" x2="307.6" y2="446.7" stroke="#111" stroke-width="1.4"/>
<line x1="303.3" y1="440.3" x2="311.90000000000003" y2="440.3" stroke="#111" stroke-width="1.4"/>
<line x1="303.3" y1="446.7" x2="311.90000000000003" y2="446.7" stroke="#111" stroke-width="1.4"/>
<line x1="54" y1="406.7" x2="54" y2="535.7" stroke="#111" stroke-width="1.5"/>
<line x1="53.3" y1="535.6" x2="320" y2="535.6" stroke="#111" stroke-width="1.6"/>
<line x1="49.7" y1="535.0" x2="54" y2="535.0" stroke="#111" stroke-width="1.3"/>
<text x="45.5" y="539.0" font-size="12" text-anchor="end" fill="#111" stroke="#111" stroke-width="0.12">0</text>
<line x1="49.7" y1="498.75" x2="54" y2="498.75" stroke="#111" stroke-width="1.3"/>
<text x="45.5" y="502.75" font-size="12" text-anchor="end" fill="#111" stroke="#111" stroke-width="0.12">20</text>
<line x1="49.7" y1="462.5" x2="54" y2="462.5" stroke="#111" stroke-width="1.3"/>
<text x="45.5" y="466.5" font-size="12" text-anchor="end" fill="#111" stroke="#111" stroke-width="0.12">40</text>
<line x1="49.7" y1="426.25" x2="54" y2="426.25" stroke="#111" stroke-width="1.3"/>
<text x="45.5" y="430.25" font-size="12" text-anchor="end" fill="#111" stroke="#111" stroke-width="0.12">60</text>
<text x="22.4" y="472.9" font-size="12.5" text-anchor="middle" fill="#111" stroke="#111" stroke-width="0.12" textLength="78" lengthAdjust="spacingAndGlyphs" transform="rotate(-90 22.4 472.9)">Aggregation %</text>
<path d="M61.8 411.2 L61.8 404.2 L130 404.2 L130 411.2" stroke="#111" stroke-width="1.4" fill="none"/>
<polygon points="90.95,395.80 91.60,397.51 93.42,397.60 92.00,398.74 92.48,400.50 90.95,399.50 89.42,400.50 89.90,398.74 88.48,397.60 90.30,397.51" fill="#111"/>
<polygon points="95.90,395.80 96.55,397.51 98.37,397.60 96.95,398.74 97.43,400.50 95.90,399.50 94.37,400.50 94.85,398.74 93.43,397.60 95.25,397.51" fill="#111"/>
<polygon points="100.85,395.80 101.50,397.51 103.32,397.60 101.90,398.74 102.38,400.50 100.85,399.50 99.32,400.50 99.80,398.74 98.38,397.60 100.20,397.51" fill="#111"/>
<path d="M130.1 451.7 L130.1 444.3 L150.1 444.3 L150.1 451.7" stroke="#111" stroke-width="1.4" fill="none"/>
<polygon points="135.15,435.90 135.80,437.61 137.62,437.70 136.20,438.84 136.68,440.60 135.15,439.60 133.62,440.60 134.10,438.84 132.68,437.70 134.50,437.61" fill="#111"/>
<polygon points="140.10,435.90 140.75,437.61 142.57,437.70 141.15,438.84 141.63,440.60 140.10,439.60 138.57,440.60 139.05,438.84 137.63,437.70 139.45,437.61" fill="#111"/>
<polygon points="145.05,435.90 145.70,437.61 147.52,437.70 146.10,438.84 146.58,440.60 145.05,439.60 143.52,440.60 144.00,438.84 142.58,437.70 144.40,437.61" fill="#111"/>
<path d="M157.5 444.3 L157.5 437.1 L177.5 437.1 L177.5 444.3" stroke="#111" stroke-width="1.4" fill="none"/>
<polygon points="162.55,428.70 163.20,430.41 165.02,430.50 163.60,431.64 164.08,433.40 162.55,432.40 161.02,433.40 161.50,431.64 160.08,430.50 161.90,430.41" fill="#111"/>
<polygon points="167.50,428.70 168.15,430.41 169.97,430.50 168.55,431.64 169.03,433.40 167.50,432.40 165.97,433.40 166.45,431.64 165.03,430.50 166.85,430.41" fill="#111"/>
<polygon points="172.45,428.70 173.10,430.41 174.92,430.50 173.50,431.64 173.98,433.40 172.45,432.40 170.92,433.40 171.40,431.64 169.98,430.50 171.80,430.41" fill="#111"/>
<path d="M198.2 401.4 L198.2 394.4 L262.8 394.4 L262.8 401.4" stroke="#111" stroke-width="1.4" fill="none"/>
<polygon points="225.55,386.00 226.20,387.71 228.02,387.80 226.60,388.94 227.08,390.70 225.55,389.70 224.02,390.70 224.50,388.94 223.08,387.80 224.90,387.71" fill="#111"/>
<polygon points="230.50,386.00 231.15,387.71 232.97,387.80 231.55,388.94 232.03,390.70 230.50,389.70 228.97,390.70 229.45,388.94 228.03,387.80 229.85,387.71" fill="#111"/>
<polygon points="235.45,386.00 236.10,387.71 237.92,387.80 236.50,388.94 236.98,390.70 235.45,389.70 233.92,390.70 234.40,388.94 232.98,387.80 234.80,387.71" fill="#111"/>
<path d="M265.2 396.8 L265.2 389.5 L284.5 389.5 L284.5 396.8" stroke="#111" stroke-width="1.4" fill="none"/>
<polygon points="269.90,381.10 270.55,382.81 272.37,382.90 270.95,384.04 271.43,385.80 269.90,384.80 268.37,385.80 268.85,384.04 267.43,382.90 269.25,382.81" fill="#111"/>
<polygon points="274.85,381.10 275.50,382.81 277.32,382.90 275.90,384.04 276.38,385.80 274.85,384.80 273.32,385.80 273.80,384.04 272.38,382.90 274.20,382.81" fill="#111"/>
<polygon points="279.80,381.10 280.45,382.81 282.27,382.90 280.85,384.04 281.33,385.80 279.80,384.80 278.27,385.80 278.75,384.04 277.33,382.90 279.15,382.81" fill="#111"/>
<path d="M289.5 416.2 L289.5 409.2 L309 409.2 L309 416.2" stroke="#111" stroke-width="1.4" fill="none"/>
<polygon points="294.30,400.80 294.95,402.51 296.77,402.60 295.35,403.74 295.83,405.50 294.30,404.50 292.77,405.50 293.25,403.74 291.83,402.60 293.65,402.51" fill="#111"/>
<polygon points="299.25,400.80 299.90,402.51 301.72,402.60 300.30,403.74 300.78,405.50 299.25,404.50 297.72,405.50 298.20,403.74 296.78,402.60 298.60,402.51" fill="#111"/>
<polygon points="304.20,400.80 304.85,402.51 306.67,402.60 305.25,403.74 305.73,405.50 304.20,404.50 302.67,405.50 303.15,403.74 301.73,402.60 303.55,402.51" fill="#111"/>
<path d="M197.5 441.4 L197.5 434.2 L217 434.2 L217 441.4" stroke="#111" stroke-width="1.4" fill="none"/>
<polygon points="202.30,425.80 202.95,427.51 204.77,427.60 203.35,428.74 203.83,430.50 202.30,429.50 200.77,430.50 201.25,428.74 199.83,427.60 201.65,427.51" fill="#111"/>
<polygon points="207.25,425.80 207.90,427.51 209.72,427.60 208.30,428.74 208.78,430.50 207.25,429.50 205.72,430.50 206.20,428.74 204.78,427.60 206.60,427.51" fill="#111"/>
<polygon points="212.20,425.80 212.85,427.51 214.67,427.60 213.25,428.74 213.73,430.50 212.20,429.50 210.67,430.50 211.15,428.74 209.73,427.60 211.55,427.51" fill="#111"/>
<path d="M223.8 433.9 L223.8 426.7 L243 426.7 L243 433.9" stroke="#111" stroke-width="1.4" fill="none"/>
<polygon points="228.45,418.30 229.10,420.01 230.92,420.10 229.50,421.24 229.98,423.00 228.45,422.00 226.92,423.00 227.40,421.24 225.98,420.10 227.80,420.01" fill="#111"/>
<polygon points="233.40,418.30 234.05,420.01 235.87,420.10 234.45,421.24 234.93,423.00 233.40,422.00 231.87,423.00 232.35,421.24 230.93,420.10 232.75,420.01" fill="#111"/>
<polygon points="238.35,418.30 239.00,420.01 240.82,420.10 239.40,421.24 239.88,423.00 238.35,422.00 236.82,423.00 237.30,421.24 235.88,420.10 237.70,420.01" fill="#111"/>
<path d="M59.3 539.3 L59.3 547 L117.5 547 L117.5 539.3" stroke="#111" stroke-width="1.3" fill="none"/>
<path d="M124 539.3 L124 547 L182.5 547 L182.5 539.3" stroke="#111" stroke-width="1.3" fill="none"/>
<path d="M190.1 539.3 L190.1 547 L248.4 547 L248.4 539.3" stroke="#111" stroke-width="1.3" fill="none"/>
<path d="M255.6 539.3 L255.6 547 L313.5 547 L313.5 539.3" stroke="#111" stroke-width="1.3" fill="none"/>
<path d="M59.3 566.7 L59.3 573.5 L183 573.5 L183 566.7" stroke="#111" stroke-width="1.3" fill="none"/>
<path d="M190.1 566.7 L190.1 573.5 L313.5 573.5 L313.5 566.7" stroke="#111" stroke-width="1.3" fill="none"/>
<text x="88.2" y="562.4" font-size="12" text-anchor="middle" fill="#111" stroke="#111" stroke-width="0.12" textLength="41.3" lengthAdjust="spacingAndGlyphs">Healthy</text>
<text x="153.8" y="562.4" font-size="12" text-anchor="middle" fill="#111" stroke="#111" stroke-width="0.12" textLength="48" lengthAdjust="spacingAndGlyphs">Diabetes</text>
<text x="219.4" y="562.4" font-size="12" text-anchor="middle" fill="#111" stroke="#111" stroke-width="0.12" textLength="41.3" lengthAdjust="spacingAndGlyphs">Healthy</text>
<text x="284.6" y="562.4" font-size="12" text-anchor="middle" fill="#111" stroke="#111" stroke-width="0.12" textLength="47.6" lengthAdjust="spacingAndGlyphs">Diabetes</text>
<text x="120.8" y="589" font-size="12" text-anchor="middle" fill="#111" stroke="#111" stroke-width="0.12" textLength="23.1" lengthAdjust="spacingAndGlyphs">0.03</text>
<text x="251.4" y="589" font-size="12" text-anchor="middle" fill="#111" stroke="#111" stroke-width="0.12" textLength="15.8" lengthAdjust="spacingAndGlyphs">0.1</text>
<text x="186.7" y="606" font-size="12" text-anchor="middle" fill="#111" stroke="#111" stroke-width="0.12" textLength="88.3" lengthAdjust="spacingAndGlyphs">Thrombin (U/ml)</text>
<circle cx="337.70" cy="456.20" r="3.4" fill="#c6c9e0" stroke="#2a4989" stroke-width="1.35"/>
<text x="345.8" y="460.2" font-size="11.5" text-anchor="start" fill="#111" stroke="#111" stroke-width="0.12" textLength="15.4" lengthAdjust="spacingAndGlyphs">Sol</text>
<circle cx="337.70" cy="470.80" r="3.4" fill="#eedacf" stroke="#b0123a" stroke-width="1.35"/>
<text x="345.8" y="474.8" font-size="11.5" text-anchor="start" fill="#111" stroke="#111" stroke-width="0.12" textLength="23.7" lengthAdjust="spacingAndGlyphs">abS1</text>
<circle cx="337.70" cy="485.70" r="3.4" fill="#e0ecd6" stroke="#5caa3c" stroke-width="1.35"/>
<text x="345.8" y="489.7" font-size="11.5" text-anchor="start" fill="#111" stroke="#111" stroke-width="0.12" textLength="18.8" lengthAdjust="spacingAndGlyphs">abβ</text>
</svg></body></html>
